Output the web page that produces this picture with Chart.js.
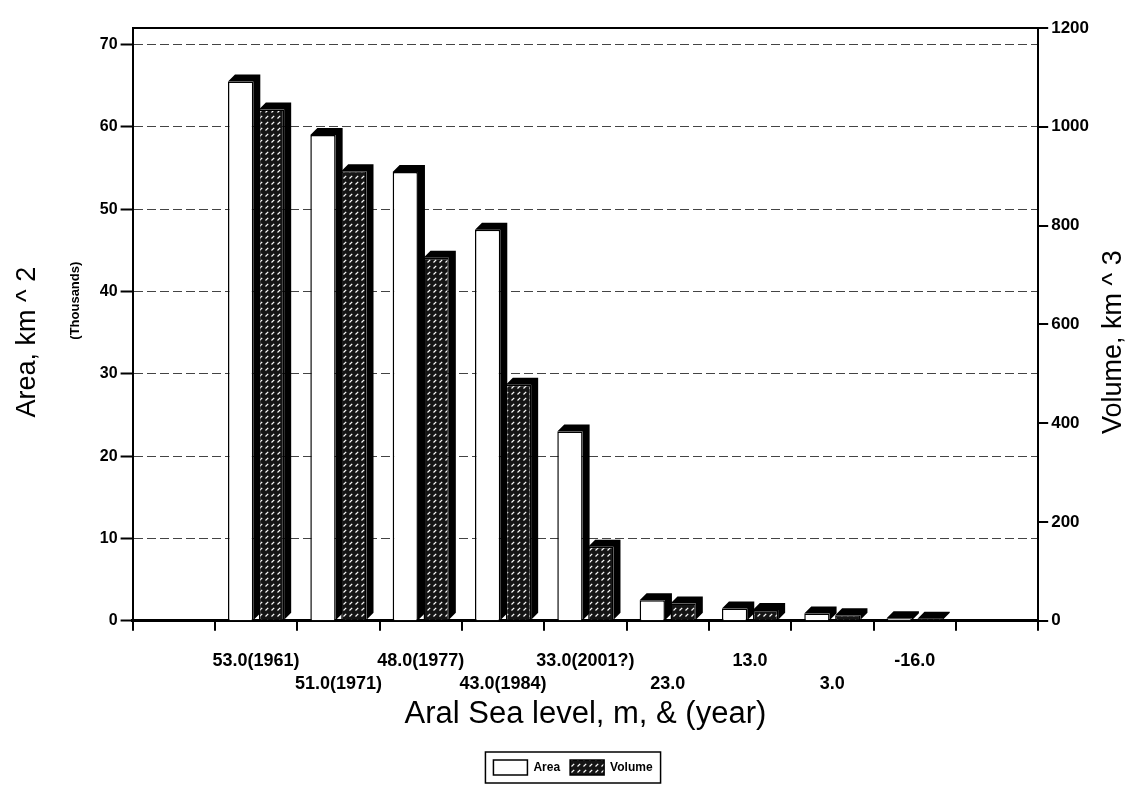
<!DOCTYPE html>
<html>
<head>
<meta charset="utf-8">
<script src="https://cdn.jsdelivr.net/npm/chart.js@4.4.1/dist/chart.umd.min.js"></script>
<style>
  html, body { margin: 0; padding: 0; background: #fff; }
  #wrap { width: 1144px; height: 793px; }
</style>
</head>
<body>
<div id="wrap"><canvas id="aral-chart" width="1144" height="793"></canvas></div>
<script>
// values
const seaLevels = ['53.0(1961)', '51.0(1971)', '48.0(1977)', '43.0(1984)', '33.0(2001?)', '23.0', '13.0', '3.0', '-16.0'];
const areaThousands = [65.5, 59, 54.5, 47.5, 23, 2.5, 1.5, 0.9, 0.3];
const volumeKm3 = [1035, 910, 735, 478, 150, 35, 22, 11, 4];
const areaTicks = [0, 10, 20, 30, 40, 50, 60, 70];
const volumeTicks = [0, 200, 400, 600, 800, 1000, 1200];

const FONT = '"Liberation Sans", Arial, sans-serif';

function makeHatch() {
  const c = document.createElement('canvas');
  c.width = 6; c.height = 6;
  const g = c.getContext('2d');
  g.fillStyle = '#151515';
  g.fillRect(0, 0, 6, 6);
  g.strokeStyle = '#fff';
  g.lineWidth = 1.2;
  g.beginPath();
  g.moveTo(1.5, 4.5);
  g.lineTo(4.2, 1.8);
  g.stroke();
  return g.createPattern(c, 'repeat');
}
const hatch = makeHatch();

// staggered labels, one empty slot at each end like the 3D floor of the original
const xLabels = [''].concat(seaLevels.map((l, i) => (i % 2 ? ['', l] : [l, ''])), ['']);
const pad = arr => [null].concat(arr, [null]);

// black side + top faces so the bars look like the 3D original
const depthPlugin = {
  id: 'depth',
  beforeDatasetsDraw(chart) {
    const ctx = chart.ctx;
    const dx = 7, dy = 7;
    ctx.save();
    ctx.fillStyle = '#000';
    chart.data.datasets.forEach((ds, di) => {
      chart.getDatasetMeta(di).data.forEach((bar, i) => {
        if (ds.data[i] == null) return;
        const p = bar.getProps(['x', 'y', 'base', 'width'], true);
        const l = p.x - p.width / 2, r = p.x + p.width / 2;
        ctx.beginPath();
        ctx.moveTo(l, p.y);
        ctx.lineTo(l + dx, p.y - dy);
        ctx.lineTo(r + dx, p.y - dy);
        ctx.lineTo(r + dx, p.base - dy);
        ctx.lineTo(r, p.base);
        ctx.lineTo(r, p.y);
        ctx.closePath();
        ctx.fill();
      });
    });
    ctx.restore();
  }
};

function rotatedText(ctx, text, font, x, y) {
  ctx.save();
  ctx.font = font;
  ctx.translate(x, y);
  ctx.rotate(-Math.PI / 2);
  ctx.fillText(text, 0, 0);
  ctx.restore();
}

const extrasPlugin = {
  id: 'extras',
  afterDraw(chart) {
    const { ctx, chartArea: a } = chart;
    const h = a.bottom - a.top;
    ctx.save();
    ctx.strokeStyle = '#000';
    ctx.lineWidth = 2;
    ctx.beginPath();
    ctx.moveTo(a.left, a.top);
    ctx.lineTo(a.right, a.top);
    ctx.stroke();

    ctx.fillStyle = '#000';
    ctx.textAlign = 'center';
    ctx.textBaseline = 'middle';

    // axis titles both read bottom to top in the original
    rotatedText(ctx, 'Area, km ^ 2', '27px ' + FONT, 28, a.top + h * 0.53);
    rotatedText(ctx, '(Thousands)', 'bold 13px ' + FONT, 75, a.top + h * 0.46);
    rotatedText(ctx, 'Volume, km ^ 3', '27px ' + FONT, chart.width - 30, a.top + h * 0.53);

    // frame round the legend
    const boxes = chart.legend.legendHitBoxes;
    if (boxes && boxes.length) {
      const left = Math.min(...boxes.map(b => b.left)) - 8;
      const right = Math.max(...boxes.map(b => b.left + b.width)) + 8;
      const top = Math.min(...boxes.map(b => b.top)) - 8;
      const bottom = Math.max(...boxes.map(b => b.top + b.height)) + 8;
      ctx.lineWidth = 1.5;
      ctx.strokeRect(left, top, right - left, bottom - top);
    }
    ctx.restore();
  }
};

new Chart(document.getElementById('aral-chart'), {
  type: 'bar',
  data: {
    labels: xLabels,
    datasets: [
      {
        label: 'Area',
        data: pad(areaThousands),
        yAxisID: 'y',
        backgroundColor: '#fff',
        borderColor: '#000',
        borderWidth: 1.5
      },
      {
        label: 'Volume',
        data: pad(volumeKm3),
        yAxisID: 'y1',
        backgroundColor: hatch,
        borderColor: '#000',
        borderWidth: 1.5
      }
    ]
  },
  options: {
    responsive: false,
    animation: false,
    categoryPercentage: 0.75,
    barPercentage: 0.82,
    layout: { padding: { top: 28, left: 54, right: 52, bottom: 8 } },
    plugins: {
      legend: {
        position: 'bottom',
        labels: {
          boxWidth: 34,
          boxHeight: 15,
          padding: 10,
          color: '#000',
          font: { family: FONT, size: 12, weight: 'bold' }
        }
      },
      tooltip: { enabled: false }
    },
    scales: {
      x: {
        grid: { drawOnChartArea: false, drawTicks: true, tickLength: 10, color: '#000', lineWidth: 2 },
        border: { color: '#000', width: 3 },
        ticks: {
          autoSkip: false,
          maxRotation: 0,
          padding: 19,
          color: '#000',
          font: { family: FONT, size: 18, weight: 'bold', lineHeight: 1.25 }
        },
        title: {
          display: true,
          text: 'Aral Sea level, m, & (year)',
          color: '#000',
          font: { family: FONT, size: 31 },
          padding: { top: -18, bottom: 17 }
        }
      },
      y: {
        position: 'left',
        min: 0,
        max: 72,
        afterBuildTicks: s => { s.ticks = areaTicks.map(v => ({ value: v })); },
        grid: { color: '#444', lineWidth: 1, tickLength: 12, tickColor: '#000', tickWidth: 2 },
        border: { color: '#000', width: 2, dash: [9, 4] },
        ticks: {
          padding: 3,
          color: '#000',
          font: { family: FONT, size: 16, weight: 'bold' }
        },
        // blank title only keeps room; the real text is drawn by extrasPlugin
        title: {
          display: true,
          text: ' ',
          font: { family: FONT, size: 24 },
          padding: { top: 0, bottom: 14 }
        }
      },
      y1: {
        position: 'right',
        min: 0,
        max: 1200,
        afterBuildTicks: s => { s.ticks = volumeTicks.map(v => ({ value: v })); },
        grid: { drawOnChartArea: false, tickLength: 10, color: '#000', lineWidth: 2 },
        border: { color: '#000', width: 2 },
        ticks: {
          padding: 3,
          color: '#000',
          font: { family: FONT, size: 17, weight: 'bold' },
          callback: v => String(v)
        }
      }
    }
  },
  plugins: [depthPlugin, extrasPlugin]
});
</script>
</body>
</html>
